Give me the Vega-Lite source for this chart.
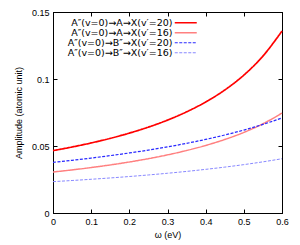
{
  "$schema": "https://vega.github.io/schema/vega-lite/v6.json",
  "width": 229,
  "height": 201,
  "autosize": "none",
  "padding": {"left": 53, "top": 12, "right": 18, "bottom": 32},
  "config": {
    "font": "Liberation Sans",
    "view": {"stroke": "black", "strokeWidth": 1},
    "axis": {
      "grid": false,
      "domainColor": "black",
      "tickColor": "black",
      "tickSize": -4,
      "labelFlush": false,
      "labelColor": "black",
      "labelFontSize": 9,
      "titleFontSize": 9,
      "titleFontWeight": "normal",
      "titleColor": "black",
      "labelFont": "Liberation Sans",
      "titleFont": "Liberation Sans"
    }
  },
  "data": {
    "values": [
      {"x": 0, "y": 0.04655, "s": "A″(v=0)→A→X(v′=20)"},
      {"x": 0.05, "y": 0.04925, "s": "A″(v=0)→A→X(v′=20)"},
      {"x": 0.1, "y": 0.05228, "s": "A″(v=0)→A→X(v′=20)"},
      {"x": 0.15, "y": 0.0557, "s": "A″(v=0)→A→X(v′=20)"},
      {"x": 0.2, "y": 0.05961, "s": "A″(v=0)→A→X(v′=20)"},
      {"x": 0.25, "y": 0.0641, "s": "A″(v=0)→A→X(v′=20)"},
      {"x": 0.3, "y": 0.06933, "s": "A″(v=0)→A→X(v′=20)"},
      {"x": 0.35, "y": 0.07549, "s": "A″(v=0)→A→X(v′=20)"},
      {"x": 0.4, "y": 0.08285, "s": "A″(v=0)→A→X(v′=20)"},
      {"x": 0.45, "y": 0.09179, "s": "A″(v=0)→A→X(v′=20)"},
      {"x": 0.5, "y": 0.1029, "s": "A″(v=0)→A→X(v′=20)"},
      {"x": 0.55, "y": 0.1171, "s": "A″(v=0)→A→X(v′=20)"},
      {"x": 0.6, "y": 0.1358, "s": "A″(v=0)→A→X(v′=20)"},
      {"x": 0, "y": 0.03058, "s": "A″(v=0)→A→X(v′=16)"},
      {"x": 0.05, "y": 0.03216, "s": "A″(v=0)→A→X(v′=16)"},
      {"x": 0.1, "y": 0.03392, "s": "A″(v=0)→A→X(v′=16)"},
      {"x": 0.15, "y": 0.03587, "s": "A″(v=0)→A→X(v′=16)"},
      {"x": 0.2, "y": 0.03807, "s": "A″(v=0)→A→X(v′=16)"},
      {"x": 0.25, "y": 0.04055, "s": "A″(v=0)→A→X(v′=16)"},
      {"x": 0.3, "y": 0.04338, "s": "A″(v=0)→A→X(v′=16)"},
      {"x": 0.35, "y": 0.04663, "s": "A″(v=0)→A→X(v′=16)"},
      {"x": 0.4, "y": 0.05041, "s": "A″(v=0)→A→X(v′=16)"},
      {"x": 0.45, "y": 0.05485, "s": "A″(v=0)→A→X(v′=16)"},
      {"x": 0.5, "y": 0.06015, "s": "A″(v=0)→A→X(v′=16)"},
      {"x": 0.55, "y": 0.0666, "s": "A″(v=0)→A→X(v′=16)"},
      {"x": 0.6, "y": 0.07458, "s": "A″(v=0)→A→X(v′=16)"},
      {"x": 0, "y": 0.03782, "s": "A″(v=0)→B″→X(v′=20)"},
      {"x": 0.05, "y": 0.03935, "s": "A″(v=0)→B″→X(v′=20)"},
      {"x": 0.1, "y": 0.04101, "s": "A″(v=0)→B″→X(v′=20)"},
      {"x": 0.15, "y": 0.04282, "s": "A″(v=0)→B″→X(v′=20)"},
      {"x": 0.2, "y": 0.04479, "s": "A″(v=0)→B″→X(v′=20)"},
      {"x": 0.25, "y": 0.04696, "s": "A″(v=0)→B″→X(v′=20)"},
      {"x": 0.3, "y": 0.04934, "s": "A″(v=0)→B″→X(v′=20)"},
      {"x": 0.35, "y": 0.05198, "s": "A″(v=0)→B″→X(v′=20)"},
      {"x": 0.4, "y": 0.05492, "s": "A″(v=0)→B″→X(v′=20)"},
      {"x": 0.45, "y": 0.0582, "s": "A″(v=0)→B″→X(v′=20)"},
      {"x": 0.5, "y": 0.06191, "s": "A″(v=0)→B″→X(v′=20)"},
      {"x": 0.55, "y": 0.06612, "s": "A″(v=0)→B″→X(v′=20)"},
      {"x": 0.6, "y": 0.07095, "s": "A″(v=0)→B″→X(v′=20)"},
      {"x": 0, "y": 0.0234, "s": "A″(v=0)→B″→X(v′=16)"},
      {"x": 0.05, "y": 0.02425, "s": "A″(v=0)→B″→X(v′=16)"},
      {"x": 0.1, "y": 0.02517, "s": "A″(v=0)→B″→X(v′=16)"},
      {"x": 0.15, "y": 0.02616, "s": "A″(v=0)→B″→X(v′=16)"},
      {"x": 0.2, "y": 0.02723, "s": "A″(v=0)→B″→X(v′=16)"},
      {"x": 0.25, "y": 0.02839, "s": "A″(v=0)→B″→X(v′=16)"},
      {"x": 0.3, "y": 0.02966, "s": "A″(v=0)→B″→X(v′=16)"},
      {"x": 0.35, "y": 0.03104, "s": "A″(v=0)→B″→X(v′=16)"},
      {"x": 0.4, "y": 0.03257, "s": "A″(v=0)→B″→X(v′=16)"},
      {"x": 0.45, "y": 0.03424, "s": "A″(v=0)→B″→X(v′=16)"},
      {"x": 0.5, "y": 0.0361, "s": "A″(v=0)→B″→X(v′=16)"},
      {"x": 0.55, "y": 0.03818, "s": "A″(v=0)→B″→X(v′=16)"},
      {"x": 0.6, "y": 0.0405, "s": "A″(v=0)→B″→X(v′=16)"}
    ]
  },
  "layer": [
    {
      "mark": {"type": "line", "interpolate": "monotone"},
      "encoding": {
        "x": {
          "field": "x", "type": "quantitative",
          "scale": {"domain": [0, 0.6], "nice": false},
          "axis": {"title": "ω (eV)", "values": [0, 0.1, 0.2, 0.3, 0.4, 0.5, 0.6], "labelExpr": "'' + datum.value", "labelPadding": 8, "titlePadding": 4}
        },
        "y": {
          "field": "y", "type": "quantitative",
          "scale": {"domain": [0, 0.15], "nice": false},
          "axis": {"title": "Amplitude (atomic unit)", "values": [0, 0.05, 0.1, 0.15], "labelExpr": "'' + datum.value", "labelPadding": 8, "titlePadding": 8}
        },
        "color": {
          "field": "s", "type": "nominal",
          "scale": {
            "domain": ["A″(v=0)→A→X(v′=20)", "A″(v=0)→A→X(v′=16)", "A″(v=0)→B″→X(v′=20)", "A″(v=0)→B″→X(v′=16)"],
            "range": ["#ff0000", "#ff8080", "#2a2aff", "#8888ff"]
          },
          "legend": {
            "title": null,
            "orient": "none",
            "legendX": 128,
            "legendY": 6,
            "symbolType": "M-5,0H5",
            "symbolSize": 19.36,
            "labelAlign": "right",
            "labelOffset": -18,
            "labelFont": "DejaVu Sans",
            "labelFontSize": 9.5,
            "labelColor": "black",
            "rowPadding": -1.5
          }
        },
        "strokeDash": {
          "field": "s", "type": "nominal",
          "scale": {
            "domain": ["A″(v=0)→A→X(v′=20)", "A″(v=0)→A→X(v′=16)", "A″(v=0)→B″→X(v′=20)", "A″(v=0)→B″→X(v′=16)"],
            "range": [[1, 0], [1, 0], [3, 1.5], [3, 1.5]]
          },
          "legend": null
        },
        "strokeWidth": {
          "field": "s", "type": "nominal",
          "scale": {
            "domain": ["A″(v=0)→A→X(v′=20)", "A″(v=0)→A→X(v′=16)", "A″(v=0)→B″→X(v′=20)", "A″(v=0)→B″→X(v′=16)"],
            "range": [1.7, 1, 1.7, 1]
          },
          "legend": null
        }
      }
    },
    {
      "mark": {"type": "point", "opacity": 0},
      "encoding": {
        "x": {
          "field": "x", "type": "quantitative",
          "scale": {"domain": [0, 0.6], "nice": false},
          "axis": {"orient": "top", "title": null, "labels": false, "values": [0, 0.1, 0.2, 0.3, 0.4, 0.5, 0.6]}
        },
        "y": {
          "field": "y", "type": "quantitative",
          "scale": {"domain": [0, 0.15], "nice": false},
          "axis": {"orient": "right", "title": null, "labels": false, "values": [0, 0.05, 0.1, 0.15]}
        }
      }
    }
  ],
  "resolve": {"axis": {"x": "independent", "y": "independent"}}
}
